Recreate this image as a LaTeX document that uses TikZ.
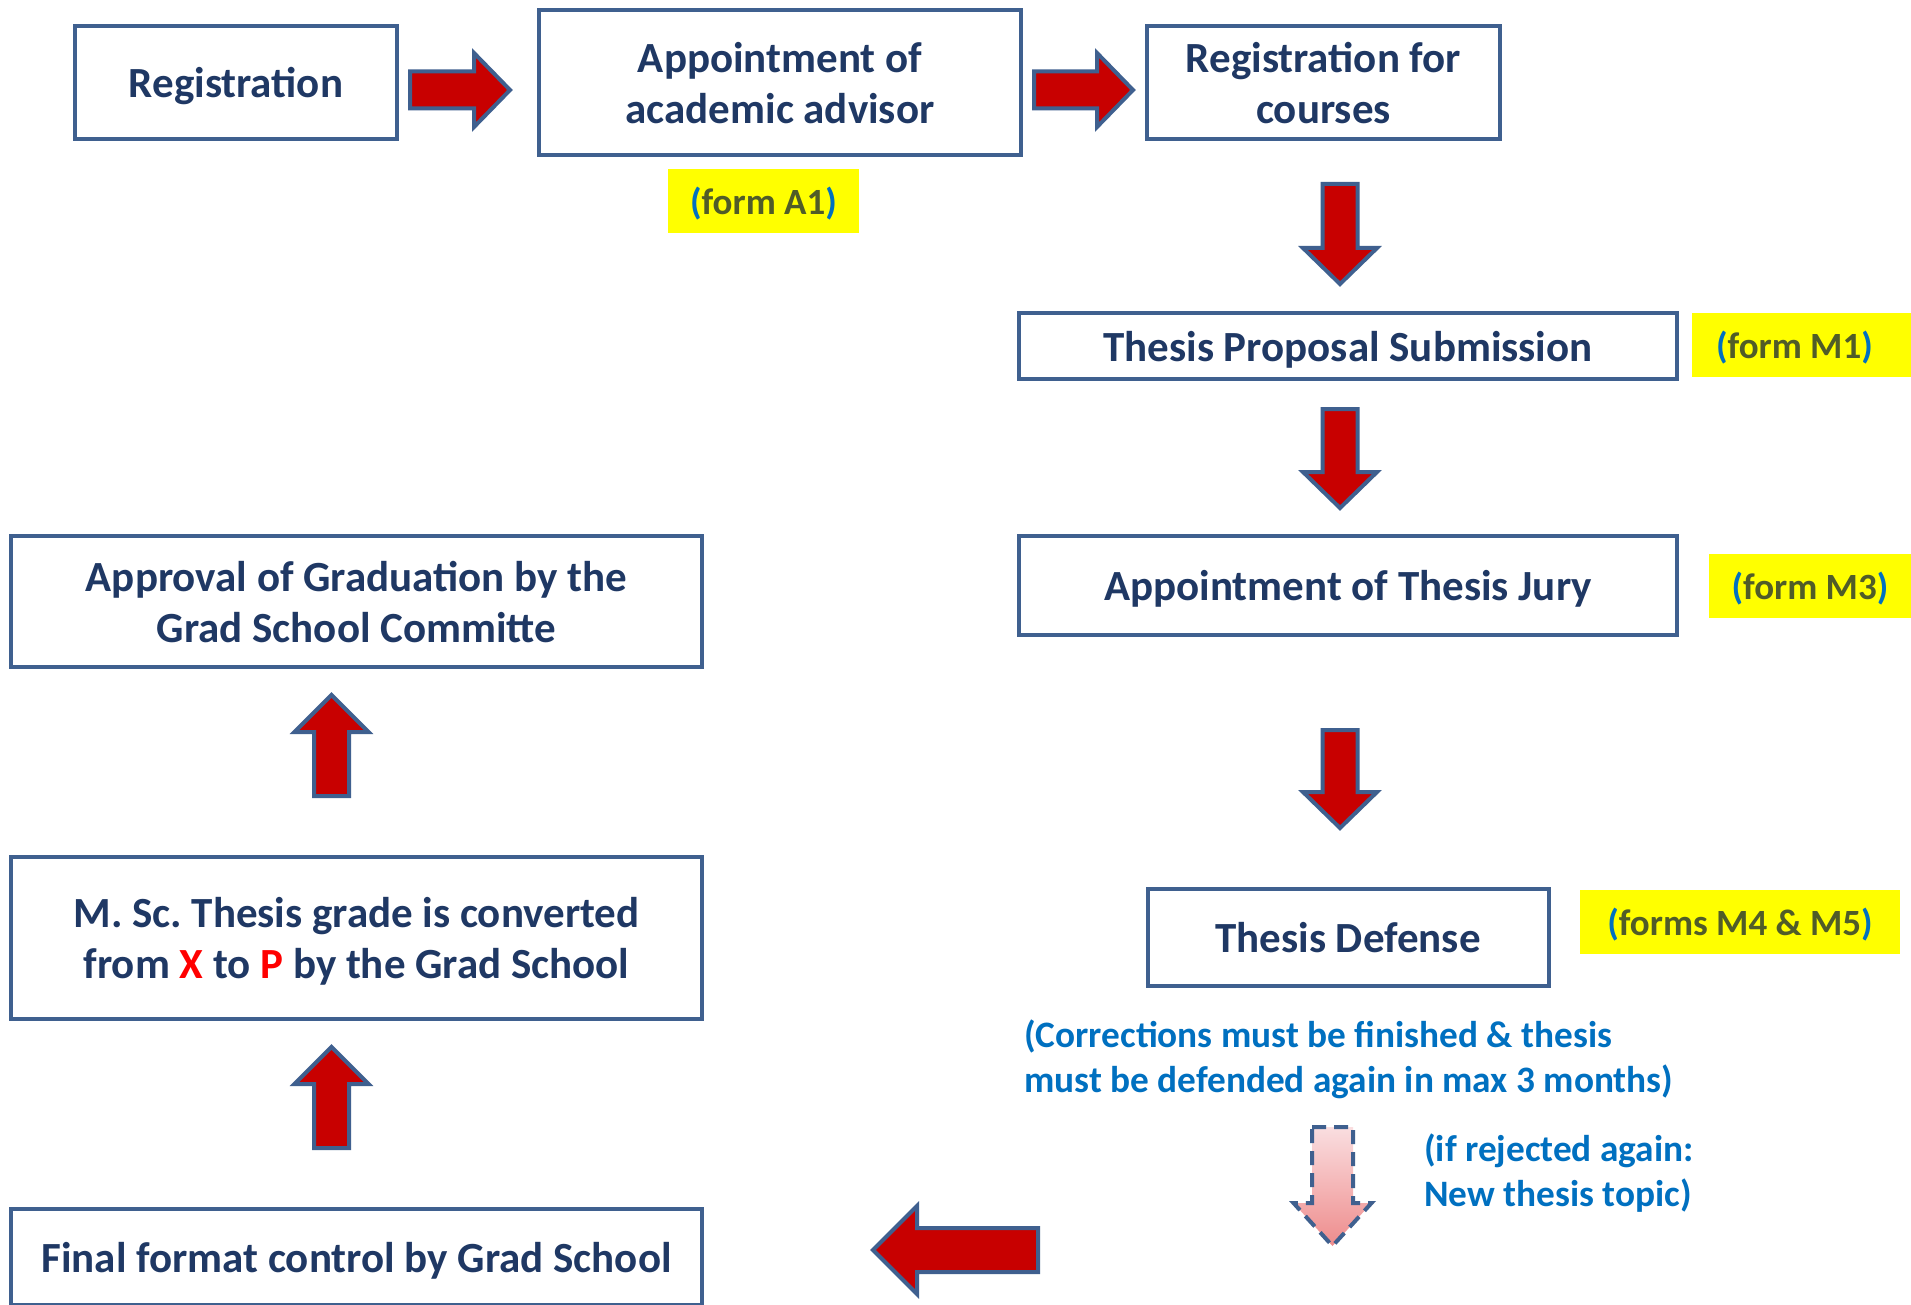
\documentclass[tikz,border=0pt]{standalone}
\usepackage{fontspec}
\setmainfont{Carlito}
\frenchspacing
\definecolor{boxblue}{RGB}{63,96,143}
\definecolor{navy}{RGB}{31,56,100}
\definecolor{arrred}{RGB}{200,0,0}
\definecolor{notblue}{RGB}{0,112,192}
\definecolor{olive}{RGB}{80,92,40}
\definecolor{hlyellow}{RGB}{255,255,0}
\definecolor{pinktop}{RGB}{250,222,224}
\definecolor{pinkbot}{RGB}{238,140,140}
\definecolor{xred}{RGB}{255,0,0}
\tikzset{
  stepbox/.style={draw=boxblue, line width=4pt, fill=white, text=navy, align=center,
    font=\fontsize{43}{51}\selectfont\bfseries, inner sep=0pt, text depth=0pt},
  formlbl/.style={fill=hlyellow, text=olive, inner sep=0pt, align=center, text depth=0pt,
    font=\fontsize{37}{44}\selectfont\bfseries},
  notetext/.style={text=notblue, align=left, anchor=base west, inner sep=0pt,
    font=\fontsize{37.3}{45}\selectfont\bfseries},
  redarrow/.style={draw=boxblue, line width=4pt, fill=arrred, line join=miter},
  dasharrow/.style={draw=boxblue, line width=4pt, dash pattern=on 14pt off 8pt,
    top color=pinktop, bottom color=pinkbot, line join=miter}
}
\newcommand{\bp}[1]{{\color{notblue}#1}}
\begin{document}
\begin{tikzpicture}[x=1pt,y=-1pt]
\useasboundingbox[fill=white] (0,0) rectangle (1911,1305);

% boxes
\node[stepbox, minimum width=322pt, minimum height=113pt] (reg) at (236,82.5) {Registration};
\node[stepbox, minimum width=482pt, minimum height=145pt] (adv) at (780,82.5) {Appointment of\\academic advisor};
\node[stepbox, minimum width=353pt, minimum height=113pt] (cour) at (1323.5,82.5) {Registration for\\courses};
\node[stepbox, minimum width=658pt, minimum height=66pt] (prop) at (1348,346) {Thesis Proposal Submission};
\node[stepbox, minimum width=658pt, minimum height=99pt] (jury) at (1348,585.5) {Appointment of Thesis Jury};
\node[stepbox, minimum width=401pt, minimum height=97pt] (def) at (1348,937.5) {Thesis Defense};
\node[stepbox, minimum width=691pt, minimum height=131pt] (appr) at (356.5,601.5) {Approval of Graduation by the\\Grad School Committe};
\node[stepbox, minimum width=691pt, minimum height=162pt] (msc) at (356.5,938) {M. Sc. Thesis grade is converted\\from {\color{xred}X} to {\color{xred}P} by the Grad School};
\node[stepbox, minimum width=691pt, minimum height=96pt] (fin) at (356.5,1257) {Final format control by Grad School};

% form labels
\node[formlbl, minimum width=191pt, minimum height=64pt] (fA1) at (763.5,201) {\bp{(}form A1\bp{)}};
\node[formlbl, minimum width=219pt, minimum height=64pt] (fM1) at (1801.5,345) {\bp{(}form M1\bp{)}\hspace*{14pt}};
\node[formlbl, minimum width=202pt, minimum height=64pt] (fM3) at (1810,586) {\bp{(}form M3\bp{)}};
\node[formlbl, minimum width=320pt, minimum height=64pt] (fM45) at (1740,922) {\bp{(}forms M4 \& M5\bp{)}};

% notes (anchored at the baseline of their last line)
\node[notetext] (corr) at (1024,1092) {(Corrections must be finished \& thesis\\must be defended again in max 3 months)};
\node[notetext] (rej) at (1424,1206) {(if rejected again:\\New thesis topic)};

% block arrows right
\draw[redarrow] (410,71.5) -- (474,71.5) -- (474,53) -- (510,90) -- (474,127) -- (474,108.5) -- (410,108.5) -- cycle;
\draw[redarrow] (1034,71.5) -- (1097,71.5) -- (1097,53) -- (1133,90) -- (1097,127) -- (1097,108.5) -- (1034,108.5) -- cycle;
% block arrows down
\draw[redarrow] (1322.5,184) -- (1357.5,184) -- (1357.5,248) -- (1377,248) -- (1340,284) -- (1303,248) -- (1322.5,248) -- cycle;
\draw[redarrow] (1322.5,409) -- (1357.5,409) -- (1357.5,472) -- (1377,472) -- (1340,508) -- (1303,472) -- (1322.5,472) -- cycle;
\draw[redarrow] (1322.5,730) -- (1357.5,730) -- (1357.5,792) -- (1377,792) -- (1340,828) -- (1303,792) -- (1322.5,792) -- cycle;
% block arrows up
\draw[redarrow] (314,796) -- (349,796) -- (349,732) -- (368.5,732) -- (331.5,695) -- (294.5,732) -- (314,732) -- cycle;
\draw[redarrow] (314,1148) -- (349,1148) -- (349,1084) -- (368.5,1084) -- (331.5,1047) -- (294.5,1084) -- (314,1084) -- cycle;
% block arrow left
\draw[redarrow] (1038,1228) -- (917,1228) -- (917,1206) -- (873,1250) -- (917,1294) -- (917,1272) -- (1038,1272) -- cycle;
% dashed arrow
\path[dasharrow] (1312,1127) -- (1353,1127) -- (1353,1203) -- (1371.5,1203) -- (1332.5,1246) -- (1293.5,1203) -- (1312,1203) -- cycle;
\end{tikzpicture}
\end{document}
